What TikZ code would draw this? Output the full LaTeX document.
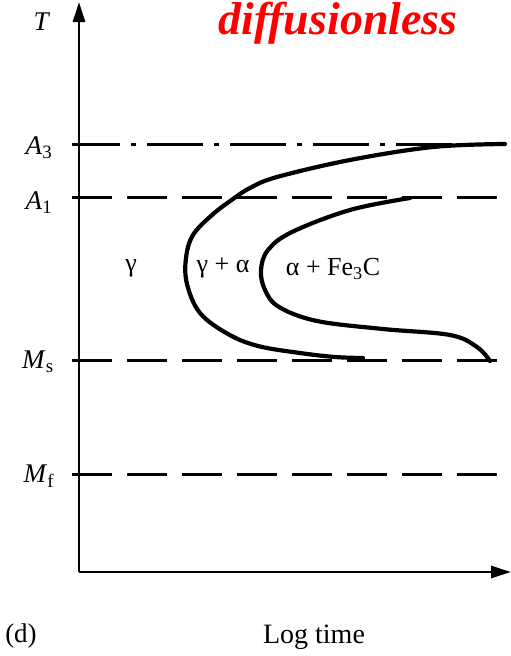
\documentclass[tikz,border=0pt]{standalone}
\usepackage{fontspec}
\setmainfont{Liberation Serif}
\usetikzlibrary{arrows.meta}
\begin{document}
\begin{tikzpicture}[x=1pt,y=-1pt,
  axis/.style={line width=2.8pt,-{Triangle[length=20pt,width=12pt]}},
  guide/.style={line width=3pt,dash pattern=on 40pt off 15pt},
  guidedot/.style={line width=3pt,dash pattern=on 56pt off 11pt on 5pt off 11pt,dash phase=8pt},
  curve/.style={line width=4.2pt,line cap=round,line join=round},
  lab/.style={font=\fontsize{27}{30}\selectfont,inner sep=0pt},
  phase/.style={font=\fontsize{26}{30}\selectfont,inner sep=0pt}]
\useasboundingbox (0,0) rectangle (511,656);
% axes
\coordinate (O) at (79,572);
\coordinate (ytop) at (79,2);
\coordinate (xend) at (511,572);
\draw[axis] (O) -- (ytop);
\draw[axis] (O) -- (xend);
% guide lines
\coordinate (a3s) at (72,144); \coordinate (a3e) at (505,144);
\coordinate (a1s) at (72,197); \coordinate (a1e) at (502,197);
\coordinate (mss) at (72,360); \coordinate (mse) at (502,360);
\coordinate (mfs) at (72,474); \coordinate (mfe) at (502,474);
\draw[guidedot] (a3s) -- (a3e);
\draw[guide] (a1s) -- (a1e);
\draw[guide] (mss) -- (mse);
\draw[guide] (mfs) -- (mfe);
% labels
\node[lab] (T) at (42,22) {\textit{T}};
\node[lab] (A3) at (39,148) {\textit{A}\textsubscript{3}};
\node[lab] (A1) at (39,203) {\textit{A}\textsubscript{1}};
\node[lab] (Ms) at (38,362) {\textit{M}\textsubscript{s}};
\node[lab] (Mf) at (39,476) {\textit{M}\textsubscript{f}};
% phase labels
\node[phase] (g) at (131,268) {γ};
\node[phase] (ga) at (223,268) {γ + α};
\node[phase] (af) at (333,269) {α + Fe\textsubscript{3}C};
% curves
\draw[curve] plot[smooth,tension=0.6] coordinates {(505,144) (433,147) (350,160) (277,177) (250,188) (233,199) (212,215) (193,235) (186,258) (187,284) (200,313) (228,334) (258,346) (300,353) (335,357) (363,358)};
\draw[curve] plot[smooth,tension=0.6] coordinates {(410,198) (350,210) (292,232) (268,250) (261,270) (265,290) (279,307) (317,321) (383,329) (450,335) (477,347) (490,361)};
% title and captions
\node[inner sep=0pt,text=red,font=\fontsize{46}{48}\selectfont\bfseries\itshape] (title) at (338,23) {diffusionless};
\node[inner sep=0pt,font=\fontsize{27}{30}\selectfont] (d) at (21,636) {(d)};
\node[inner sep=0pt,font=\fontsize{28}{30}\selectfont] (lt) at (314,637) {Log time};
\end{tikzpicture}
\end{document}
